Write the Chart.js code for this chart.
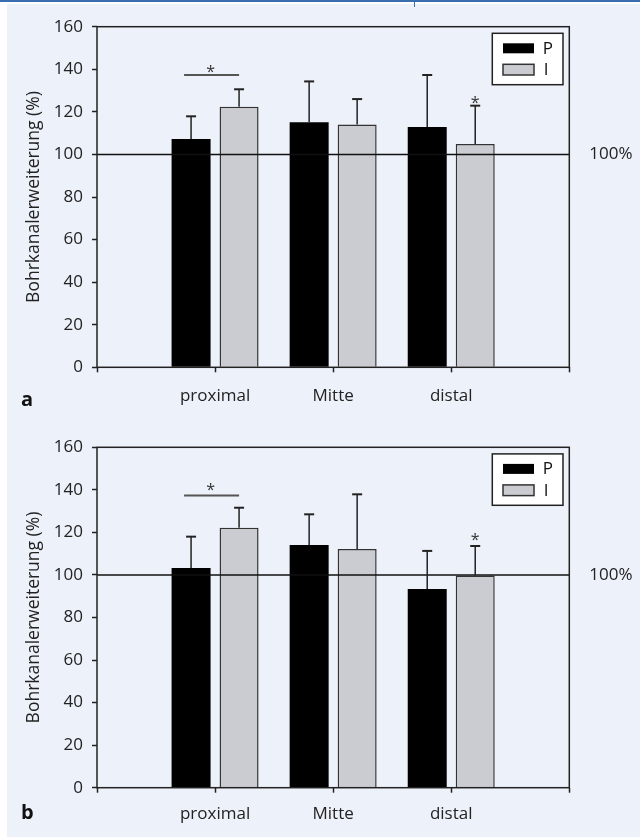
<!DOCTYPE html>
<html>
<head>
<meta charset="utf-8">
<script src="https://cdn.jsdelivr.net/npm/chart.js@4.4.1/dist/chart.umd.min.js"></script>
<style>
  html, body { margin: 0; padding: 0; background: #fff; }
  #page { position: relative; width: 640px; height: 837px; overflow: hidden; }
  #topline { position: absolute; left: 0; top: 0; width: 640px; height: 2px; background: #3a6db0; }
  #notch { position: absolute; left: 414px; top: 0; width: 1px; height: 7px; background: #3a6db0; }
  #panel { position: absolute; left: 7px; top: 4px; right: 0; bottom: 0; background: #edf1f9; }
  .box { position: absolute; left: 0; width: 640px; }
  #box-a { top: 0; height: 420px; }
  #box-b { top: 420px; height: 417px; }
</style>
</head>
<body>
<div id="page">
  <div id="topline"></div>
  <div id="panel"></div>
  <div id="notch"></div>
  <div class="box" id="box-a"><canvas id="c-a" width="640" height="420"></canvas></div>
  <div class="box" id="box-b"><canvas id="c-b" width="640" height="417"></canvas></div>
</div>
<script>
/* global Chart */
(function () {
  "use strict";

  const categories = ["", "proximal", "Mitte", "distal", ""];
  const seriesNames = ["P", "I"];
  const refValue = 100;

  // Abb. a: mean and standard deviation (upper error bar)
  const aP = [null, 107.3, 115.1, 112.9, null];
  const aPsd = [null, 10.6, 19.2, 24.4, null];
  const aI = [null, 122.4, 114.0, 104.9, null];
  const aIsd = [null, 8.2, 12.0, 18.0, null];
  // bracket level, star above bracket, star above distal I
  const aSig = [137.3, 140.7, 126.0];

  // Abb. b
  const bP = [null, 103.3, 114.1, 93.4, null];
  const bPsd = [null, 14.7, 14.4, 17.9, null];
  const bI = [null, 122.2, 112.2, 99.8, null];
  const bIsd = [null, 9.4, 25.7, 13.8, null];
  const bSig = [137.3, 141.9, 118.2];

  const FONT = '"Open Sans", "Noto Sans", sans-serif';
  const INK = "#222";
  const GREY = "#cbccd1";

  Chart.defaults.font.family = FONT;
  Chart.defaults.color = INK;

  const decorations = {
    id: "decorations",
    afterDatasetsDraw(chart, args, opts) {
      const ctx = chart.ctx;
      const area = chart.chartArea;
      const y = chart.scales.y;

      // reference line at 100 %
      const yRef = y.getPixelForValue(refValue);
      ctx.save();
      ctx.strokeStyle = "#111";
      ctx.lineWidth = 1.5;
      ctx.beginPath();
      ctx.moveTo(area.left, yRef);
      ctx.lineTo(area.right, yRef);
      ctx.stroke();
      ctx.font = "17px " + FONT;
      ctx.fillStyle = INK;
      ctx.textAlign = "left";
      ctx.textBaseline = "middle";
      ctx.fillText("100%", area.right + 20, yRef);

      // error bars (upper only)
      ctx.strokeStyle = INK;
      opts.sd.forEach(function (sd, di) {
        const meta = chart.getDatasetMeta(di);
        const vals = chart.data.datasets[di].data;
        meta.data.forEach(function (bar, i) {
          if (vals[i] == null || sd[i] == null) return;
          const yTop = y.getPixelForValue(vals[i] + sd[i]);
          const yBar = y.getPixelForValue(vals[i]);
          ctx.lineWidth = 1.5;
          ctx.beginPath();
          ctx.moveTo(bar.x, yBar);
          ctx.lineTo(bar.x, yTop);
          ctx.stroke();
          ctx.lineWidth = 2;
          ctx.beginPath();
          ctx.moveTo(bar.x - 5, yTop);
          ctx.lineTo(bar.x + 5, yTop);
          ctx.stroke();
        });
      });

      // significance marks
      const pBar = chart.getDatasetMeta(0).data[1];
      const iBar = chart.getDatasetMeta(1).data[1];
      const iDist = chart.getDatasetMeta(1).data[3];
      const yBr = y.getPixelForValue(opts.sig[0]);
      ctx.strokeStyle = "#555";
      ctx.lineWidth = 2;
      ctx.beginPath();
      ctx.moveTo(pBar.x - 7, yBr);
      ctx.lineTo(iBar.x, yBr);
      ctx.stroke();
      ctx.font = "16px " + FONT;
      ctx.fillStyle = "#333";
      ctx.textAlign = "center";
      ctx.textBaseline = "alphabetic";
      ctx.fillText("*", (pBar.x - 7 + iBar.x) / 2 - 1, y.getPixelForValue(opts.sig[1]) + 9);
      ctx.fillText("*", iDist.x, y.getPixelForValue(opts.sig[2]) + 9);
      ctx.restore();
    },
    afterDraw(chart, args, opts) {
      const ctx = chart.ctx;
      const area = chart.chartArea;
      ctx.save();

      // frame
      ctx.strokeStyle = INK;
      ctx.lineWidth = 1.5;
      ctx.strokeRect(area.left, area.top, area.right - area.left, area.bottom - area.top);

      // legend
      const bx = area.right - 77;
      const by = area.top + 6.6;
      ctx.fillStyle = "#fff";
      ctx.fillRect(bx, by, 70.7, 51.4);
      ctx.strokeRect(bx, by, 70.7, 51.4);
      ctx.fillStyle = "#000";
      ctx.fillRect(bx + 10.7, by + 10, 31, 10);
      ctx.fillStyle = GREY;
      ctx.fillRect(bx + 10.7, by + 31, 31, 10.7);
      ctx.strokeStyle = "#333";
      ctx.strokeRect(bx + 10.7, by + 31, 31, 10.7);
      ctx.fillStyle = "#111";
      ctx.font = "17px " + FONT;
      ctx.textAlign = "left";
      ctx.textBaseline = "middle";
      ctx.fillText(seriesNames[0], bx + 50.4, by + 15.5);
      ctx.fillText(seriesNames[1], bx + 51.5, by + 37);

      // panel letter
      ctx.font = "bold 20px " + FONT;
      ctx.textBaseline = "alphabetic";
      ctx.fillStyle = "#111";
      ctx.fillText(opts.letter, 21, opts.letterY);
      ctx.restore();
    }
  };

  function makeChart(canvasId, pVals, pSd, iVals, iSd, sig, letter, letterY, top, bottomH, labelPad) {
    return new Chart(document.getElementById(canvasId).getContext("2d"), {
      type: "bar",
      data: {
        labels: categories,
        datasets: [
          {
            label: seriesNames[0],
            data: pVals,
            backgroundColor: "#000",
            borderWidth: 0,
            categoryPercentage: 0.813,
            barPercentage: 0.8125
          },
          {
            label: seriesNames[1],
            data: iVals,
            backgroundColor: GREY,
            borderColor: "#333",
            borderWidth: 1.5,
            categoryPercentage: 0.813,
            barPercentage: 0.8125
          }
        ]
      },
      options: {
        responsive: false,
        animation: false,
        devicePixelRatio: 1,
        layout: { padding: { top: top, right: 70.7, left: 0, bottom: 0 } },
        plugins: {
          legend: { display: false },
          tooltip: { enabled: false },
          decorations: { sd: [pSd, iSd], sig: sig, letter: letter, letterY: letterY }
        },
        scales: {
          x: {
            type: "category",
            offset: false,
            grid: {
              offset: false,
              drawOnChartArea: false,
              drawTicks: true,
              tickLength: 5,
              tickColor: INK,
              tickWidth: 1.5
            },
            border: { display: false },
            ticks: {
              color: INK,
              font: { size: 17 },
              padding: labelPad,
              maxRotation: 0,
              autoSkip: false
            },
            afterFit: function (s) { s.height = bottomH; }
          },
          y: {
            min: 0,
            max: 160,
            grid: {
              drawOnChartArea: false,
              drawTicks: true,
              tickLength: 5,
              tickColor: INK,
              tickWidth: 1.5
            },
            border: { display: false },
            ticks: {
              stepSize: 20,
              color: INK,
              font: { size: 17 },
              padding: 9
            },
            title: {
              display: true,
              text: "Bohrkanalerweiterung (%)",
              color: INK,
              font: { size: 17.5 },
              padding: { top: 24, bottom: 0 }
            },
            afterFit: function (s) { s.width = 97; }
          }
        }
      },
      plugins: [decorations]
    });
  }

  makeChart("c-a", aP, aPsd, aI, aIsd, aSig, "a", 406, 26.7, 52.7, 14);
  makeChart("c-b", bP, bPsd, bI, bIsd, bSig, "b", 399, 27.3, 49.3, 11);
})();
</script>
</body>
</html>
